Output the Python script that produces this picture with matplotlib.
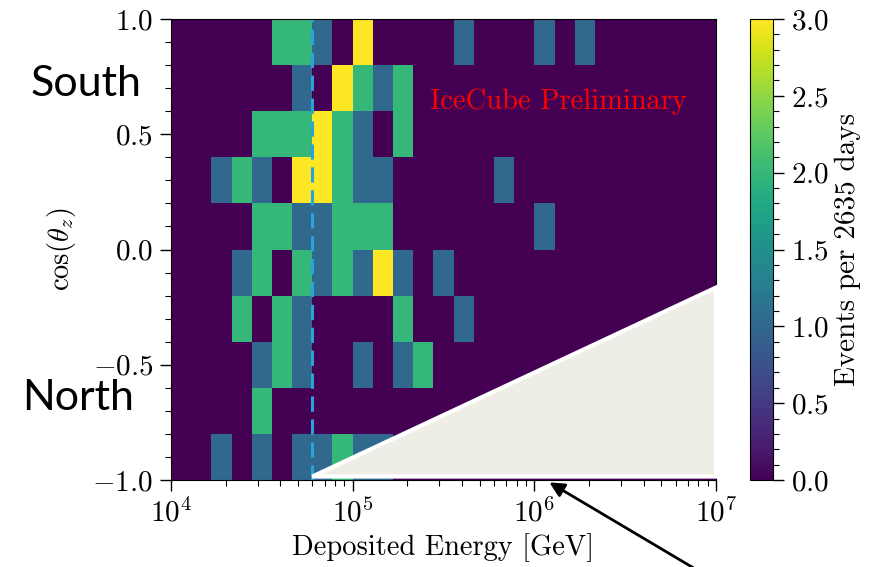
import numpy as np
import matplotlib
matplotlib.use('Agg')
from matplotlib import pyplot as plt
from matplotlib.patches import Polygon
from matplotlib.ticker import MultipleLocator

# bin edges: 1/9 decade in energy, 0.2 in cos(zenith)
energy_edges = np.logspace(4, 7, 28)
cos_edges = np.linspace(-1, 1, 11)

# event counts, rows from cos=1 (top) down to cos=-1 (bottom)
events = [
    [0, 0, 0, 0, 0, 2, 2, 1, 0, 3, 0, 0, 0, 0, 1, 0, 0, 0, 1, 0, 1, 0, 0, 0, 0, 0, 0],
    [0, 0, 0, 0, 0, 0, 1, 0, 3, 2, 1, 2, 0, 0, 0, 0, 0, 0, 0, 0, 0, 0, 0, 0, 0, 0, 0],
    [0, 0, 0, 0, 2, 2, 2, 3, 2, 1, 0, 2, 0, 0, 0, 0, 0, 0, 0, 0, 0, 0, 0, 0, 0, 0, 0],
    [0, 0, 1, 2, 1, 0, 3, 3, 2, 1, 1, 0, 0, 0, 0, 0, 1, 0, 0, 0, 0, 0, 0, 0, 0, 0, 0],
    [0, 0, 0, 0, 2, 2, 1, 1, 2, 2, 2, 0, 0, 0, 0, 0, 0, 0, 1, 0, 0, 0, 0, 0, 0, 0, 0],
    [0, 0, 0, 1, 2, 0, 2, 1, 2, 1, 3, 1, 0, 1, 0, 0, 0, 0, 0, 0, 0, 0, 0, 0, 0, 0, 0],
    [0, 0, 0, 2, 0, 2, 1, 0, 0, 0, 0, 2, 0, 0, 1, 0, 0, 0, 0, 0, 0, 0, 0, 0, 0, 0, 0],
    [0, 0, 0, 0, 1, 2, 1, 0, 0, 1, 0, 1, 2, 0, 0, 0, 0, 0, 0, 0, 0, 0, 0, 0, 0, 0, 0],
    [0, 0, 0, 0, 2, 0, 0, 0, 0, 0, 0, 0, 0, 0, 0, 0, 0, 0, 0, 0, 0, 0, 0, 0, 0, 0, 0],
    [0, 0, 1, 0, 1, 0, 1, 1, 2, 1, 1, 0, 0, 0, 0, 0, 0, 0, 0, 0, 0, 0, 0, 0, 0, 0, 0],
]
threshold_energy = 6e4
livetime_days = 2635

plt.rcParams.update({
    'font.family': 'serif',
    'font.serif': ['cmr10'],
    'mathtext.fontset': 'cm',
    'axes.formatter.use_mathtext': True,
    'font.size': 21,
})

W, H = 884, 567
fig = plt.figure(figsize=(W / 100, H / 100), dpi=100)
ax = fig.add_axes([171 / W, 87 / H, 545 / W, 461 / H])
cax = fig.add_axes([750 / W, 87 / H, 23 / W, 461 / H])

counts = np.array(events)[::-1]
mesh = ax.pcolormesh(energy_edges, cos_edges, counts, cmap='viridis', vmin=0, vmax=3)
ax.set_xscale('log')
ax.set_xlim(1e4, 1e7)
ax.set_ylim(-1, 1)
ax.axvline(threshold_energy, color='#2aa3d8', lw=2.2, ls=(0, (5, 2.5)))

ax.yaxis.set_major_locator(MultipleLocator(0.5))
ax.yaxis.set_minor_locator(MultipleLocator(0.1))
ax.tick_params(which='major', length=8, width=1, pad=5, labelsize=21)
ax.tick_params(which='minor', length=4, width=0.8)
ax.set_xlabel('Deposited Energy [GeV]', fontsize=20.5, labelpad=4)
ax.set_ylabel(r'$\cos(\theta_z)$', fontsize=20.5, labelpad=10)

ax.text(0.71, 0.82, 'IceCube Preliminary', transform=ax.transAxes,
        color='red', fontsize=20.5, ha='center', va='center')

cb = fig.colorbar(mesh, cax=cax)
cb.ax.yaxis.set_major_locator(MultipleLocator(0.5))
cb.ax.yaxis.set_minor_locator(MultipleLocator(0.1))
cb.ax.tick_params(which='major', length=8, width=1, pad=5, labelsize=21)
cb.ax.tick_params(which='minor', length=4, width=0.8)
cb.set_label('Events per %d days' % livetime_days, fontsize=21, labelpad=4)

# slide overlay: shaded triangle, hemisphere labels and arrow
tri = Polygon([[threshold_energy, -0.985], [1e7, -0.165], [1e7, -0.985]],
              closed=True, facecolor='#eeeee7', edgecolor='white', lw=3,
              zorder=4, clip_on=False)
ax.add_patch(tri)

fig.text(86 / W, 1 - 84 / H, 'South', family='Lato', fontsize=31,
         ha='center', va='center', color='black')
fig.text(78 / W, 1 - 398 / H, 'North', family='Lato', fontsize=31,
         ha='center', va='center', color='black')
fig.patches.append(matplotlib.patches.FancyArrowPatch(
    (697 / W, -3 / H), (547 / W, 1 - 481 / H), transform=fig.transFigure,
    arrowstyle='-|>', mutation_scale=22, color='black', lw=2))

fig.savefig('out.png', dpi=100)
